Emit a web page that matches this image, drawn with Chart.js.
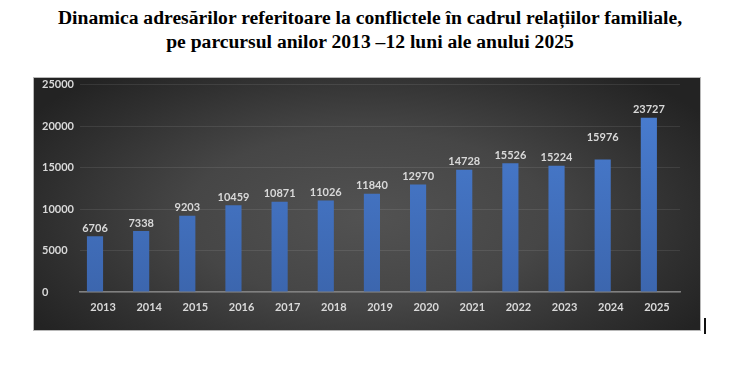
<!DOCTYPE html>
<html>
<head>
<meta charset="utf-8">
<script src="https://cdn.jsdelivr.net/npm/chart.js@4.4.1/dist/chart.umd.min.js"></script>
<style>
  html,body{margin:0;padding:0;background:#fff;width:740px;height:382px;overflow:hidden;}
  #title{position:absolute;left:0;top:6px;width:740px;text-align:center;font-family:"Liberation Serif","Times New Roman",serif;font-weight:bold;font-size:19.6px;line-height:24px;color:#000;}
  #box{position:absolute;left:33px;top:77px;width:668px;height:254px;box-sizing:border-box;border:1px solid #b8b8b8;overflow:hidden;
       background:radial-gradient(ellipse 60% 75% at 50% 55%, #525252 0%, #464646 45%, #2f2f2f 80%, #232323 100%);}
  #c{position:absolute;left:0;top:-6px;}
  #cursor{position:absolute;left:704px;top:318px;width:2px;height:16px;background:#111;}
</style>
</head>
<body>
<div id="title">Dinamica adresărilor referitoare la conflictele în cadrul relațiilor familiale,<br>pe parcursul anilor 2013 –12 luni ale anului 2025</div>
<div id="box"><canvas id="c" width="666" height="258"></canvas></div>
<div id="cursor"></div>
<script>
const categories = ["2013","2014","2015","2016","2017","2018","2019","2020","2021","2022","2023","2024","2025"];
// value labels printed above the bars
const labelValues = [6706, 7338, 9203, 10459, 10871, 11026, 11840, 12970, 14728, 15526, 15224, 15976, 23727];
// bar heights as drawn in the picture (last bar is drawn lower than its label)
const barValues = [6706, 7338, 9203, 10459, 10871, 11026, 11840, 12970, 14728, 15526, 15224, 15976, 21000];
const yTicks = [0, 5000, 10000, 15000, 20000, 25000];

const tickFont = { family: 'Lato, "Open Sans", sans-serif', size: 11, weight: 'bold' };
const labelFont = 'bold 11px Lato, "Open Sans", sans-serif';

const valueLabels = {
  id: 'valueLabels',
  afterDatasetsDraw(chart) {
    const ctx = chart.ctx;
    const meta = chart.getDatasetMeta(0);
    ctx.save();
    ctx.font = labelFont;
    ctx.fillStyle = '#d9d9d9';
    ctx.textAlign = 'center';
    ctx.textBaseline = 'middle';
    meta.data.forEach((bar, i) => {
      const lift = (i === 11) ? 22 : 8;
      ctx.fillText(String(labelValues[i]), bar.x, bar.y - lift);
    });
    ctx.restore();
  }
};

new Chart(document.getElementById('c'), {
  type: 'bar',
  data: {
    labels: categories,
    datasets: [{
      data: barValues,
      backgroundColor(context) {
        const area = context.chart.chartArea;
        if (!area) return '#4472c4';
        const g = context.chart.ctx.createLinearGradient(0, area.top, 0, area.bottom);
        g.addColorStop(0, '#4a7fd4');
        g.addColorStop(1, '#3c66ae');
        return g;
      },
      borderWidth: 0,
      barPercentage: 1.0,
      categoryPercentage: 0.70
    }, {
      // empty companion series (no bars), as in the source chart
      data: categories.map(() => null),
      backgroundColor: 'rgba(0,0,0,0)',
      borderWidth: 0,
      barPercentage: 1.0,
      categoryPercentage: 0.70
    }]
  },
  options: {
    responsive: false,
    animation: false,
    devicePixelRatio: 1,
    layout: { padding: { left: 8, right: 20, top: 0, bottom: 0 } },
    plugins: { legend: { display: false }, tooltip: { enabled: false }, title: { display: false } },
    scales: {
      x: {
        grid: { display: false, drawTicks: false },
        border: { display: true, color: '#808080', width: 1.5 },
        ticks: { color: '#d9d9d9', font: tickFont, padding: 9 },
        afterFit(scale) { scale.height = 38; }
      },
      y: {
        min: 0, max: 25000,
        afterBuildTicks(scale) { scale.ticks = yTicks.map(v => ({ value: v })); },
        grid: { color: 'rgba(255,255,255,0.09)', drawTicks: false, lineWidth: 1 },
        border: { display: false },
        ticks: { color: '#d9d9d9', font: tickFont, crossAlign: 'far', padding: 6, callback: v => String(v) },
        afterFit(scale) { scale.width = 38; }
      }
    }
  },
  plugins: [valueLabels]
});
</script>
</body>
</html>
